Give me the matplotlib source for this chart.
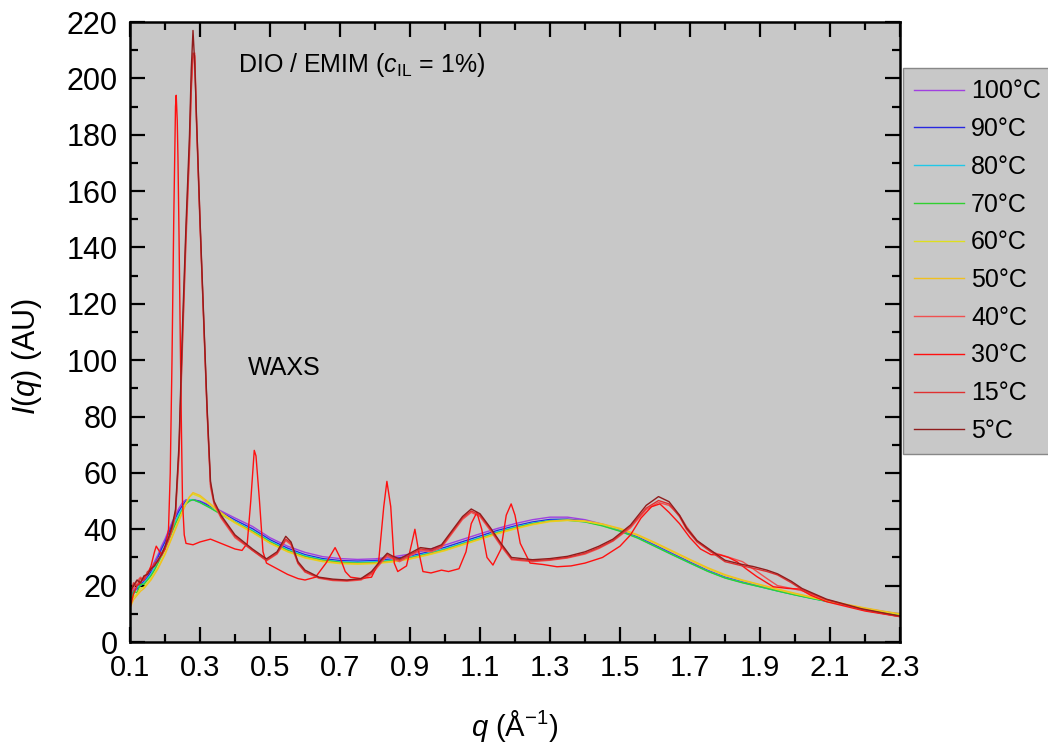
import numpy as np
import matplotlib
matplotlib.use('Agg')
import matplotlib.pyplot as plt
from matplotlib.ticker import MultipleLocator

plt.rcParams['font.family'] = ['Liberation Sans', 'DejaVu Sans']
plt.rcParams['mathtext.fontset'] = 'custom'
plt.rcParams['mathtext.rm'] = 'Liberation Sans'
plt.rcParams['mathtext.it'] = 'Liberation Sans:italic'

# smooth (liquid) curves, 50-100 C
q_s = [0.10, 0.11, 0.12, 0.13, 0.14, 0.15, 0.16, 0.17, 0.18, 0.19, 0.20, 0.21,
       0.22, 0.23, 0.24, 0.25, 0.26, 0.27, 0.28, 0.30, 0.33, 0.36, 0.40, 0.45,
       0.50, 0.55, 0.60, 0.65, 0.70, 0.75, 0.80, 0.85, 0.90, 0.95, 1.00, 1.05,
       1.10, 1.15, 1.20, 1.25, 1.30, 1.35, 1.40, 1.45, 1.50, 1.55, 1.60, 1.65,
       1.70, 1.75, 1.80, 1.85, 1.90, 1.95, 2.00, 2.05, 2.10, 2.15, 2.20, 2.25, 2.30]

i100 = [15, 19, 18.5, 21.5, 22, 24, 26, 28.5, 31, 34, 36.5, 39.5,
        42.5, 45, 47.5, 49.5, 50.5, 50.5, 50.5, 50, 48.5, 46.5, 44, 41,
        37, 34, 31.8, 30.3, 29.6, 29.3, 29.5, 30.2, 31.2, 32.7, 34.4, 36.4,
        38.4, 40.3, 42, 43.4, 44.3, 44.3, 43.4, 41.8, 39.9, 37.4, 34.4, 31.4,
        28.4, 25.5, 23.1, 21.4, 19.9, 18.4, 16.9, 15.6, 14.4, 13.1, 11.9, 10.9, 9.9]
i90 = [14, 18, 19, 20.5, 21.5, 23, 25, 27.5, 30, 33, 35.5, 38.5,
       41.5, 44, 46.5, 48.5, 50, 50.5, 50.5, 49.8, 48, 46, 43.3, 40.2,
       36.3, 33.3, 31, 29.6, 28.9, 28.7, 28.9, 29.5, 30.5, 31.9, 33.6, 35.6,
       37.6, 39.6, 41.2, 42.6, 43.5, 43.6, 43, 41.5, 39.6, 37.2, 34.2, 31.2,
       28.2, 25.3, 22.9, 21.2, 19.7, 18.2, 16.8, 15.5, 14.3, 13, 11.8, 10.8, 9.8]
i80 = [16, 17, 19.5, 20, 21, 22.5, 24, 26.5, 29, 31.5, 34, 37,
       40, 43, 45.5, 47.5, 49.5, 50.5, 50.5, 49.5, 47.6, 45.5, 42.8, 39.6,
       35.8, 32.8, 30.6, 29.2, 28.5, 28.3, 28.5, 29.1, 30.1, 31.5, 33.1, 35.1,
       37.1, 39.1, 40.8, 42.2, 43.1, 43.3, 42.7, 41.3, 39.4, 37, 34, 31,
       28, 25.2, 22.8, 21.1, 19.6, 18.1, 16.7, 15.4, 14.2, 12.9, 11.7, 10.7, 9.7]
i70 = [13, 18, 17.5, 20.5, 20.5, 22, 23.5, 25.5, 28, 30.5, 33, 36,
       39, 42, 44.5, 47, 49, 50, 50.5, 49.5, 47.5, 45.3, 42.5, 39.3,
       35.5, 32.5, 30.3, 29, 28.3, 28, 28.2, 28.8, 29.8, 31.2, 32.8, 34.8,
       36.8, 38.8, 40.5, 42, 43, 43.2, 42.6, 41.2, 39.3, 36.9, 33.9, 30.9,
       28, 25.1, 22.7, 21, 19.6, 18.1, 16.7, 15.4, 14.2, 12.9, 11.7, 10.7, 9.7]
i60 = [14, 16, 17, 19, 19.5, 21, 22.5, 24.5, 26.5, 29, 31.5, 34.5,
       37.5, 40.5, 43.5, 46.5, 49.5, 51.5, 52.5, 51.5, 48.5, 45.5, 42.2, 38.8,
       35, 32, 29.8, 28.5, 27.8, 27.6, 27.8, 28.4, 29.4, 30.8, 32.4, 34.4,
       36.4, 38.4, 40.1, 41.6, 42.7, 43.1, 42.8, 41.7, 40, 37.8, 35, 32,
       29, 26.1, 23.6, 21.8, 20.2, 18.6, 17.1, 15.7, 14.4, 13.1, 11.9, 10.8, 9.8]
i50 = [12, 15, 16.5, 18, 19, 20.5, 22, 24, 26, 28.5, 31, 34,
       37, 40, 43, 46, 49, 51.5, 53, 52, 49, 46, 42.5, 39,
       35.2, 32.2, 30, 28.7, 28, 27.8, 28, 28.6, 29.6, 31, 32.6, 34.6,
       36.6, 38.6, 40.3, 41.8, 42.9, 43.3, 43, 41.9, 40.3, 38.1, 35.3, 32.3,
       29.3, 26.4, 23.9, 22, 20.4, 18.8, 17.3, 15.9, 14.6, 13.3, 12.1, 11, 10]

# crystalline curves with the 0.28 peak (5, 15, 40 C)
q_d = [0.10, 0.11, 0.12, 0.13, 0.14, 0.15, 0.16, 0.17, 0.18, 0.19, 0.20, 0.21,
       0.22, 0.23, 0.24, 0.25, 0.26, 0.27, 0.275, 0.28, 0.285, 0.29, 0.30, 0.31,
       0.32, 0.33, 0.34, 0.36, 0.40, 0.45, 0.49, 0.52, 0.545, 0.56, 0.58, 0.60,
       0.64, 0.68, 0.72, 0.76, 0.79, 0.82, 0.835, 0.85, 0.87, 0.90, 0.93, 0.96,
       0.99, 1.02, 1.05, 1.075, 1.10, 1.13, 1.16, 1.19, 1.25, 1.30, 1.35, 1.40,
       1.44, 1.48, 1.53, 1.575, 1.61, 1.64, 1.67, 1.69, 1.72, 1.76, 1.80, 1.85,
       1.88, 1.92, 1.95, 1.99, 2.02, 2.09, 2.19, 2.30]
i5 = [18, 20, 22, 21, 23.5, 24, 26, 27, 29, 31, 34, 37,
      41, 47, 70, 112, 148, 180, 203, 217, 205, 186, 150, 117,
      84, 57, 50, 45, 38, 33, 29.5, 32, 37.5, 35.5, 28.5, 25.5,
      23, 22.3, 22, 22.5, 25, 29.5, 31.5, 30.5, 29.5, 31.5, 33.5, 33,
      34.5, 39.5, 44.5, 47.2, 45.5, 40.5, 35, 30, 29.2, 29.6, 30.4, 32,
      34, 36.5, 41.5, 48.5, 51.6, 49.8, 45, 40.5, 36, 32.5, 29, 27.5,
      26.8, 25.5, 24.2, 21.5, 19, 15.2, 11.8, 9.2]
i15 = [16, 21, 20, 22.5, 22, 25, 25.5, 28, 28.5, 31.5, 33.5, 36.5,
       40, 46, 68, 108, 145, 176, 198, 209, 208, 184, 148, 116,
       83, 56, 49.5, 44.5, 37.5, 32.5, 29, 31.5, 36.5, 35, 28, 25,
       22.8, 22, 21.8, 22.3, 24.5, 29, 31, 30, 29, 31, 33, 32.5,
       34, 39, 44, 46.5, 45, 40, 34.5, 29.5, 28.8, 29.2, 30, 31.5,
       33.5, 36, 41, 47.5, 50.2, 49, 44.5, 40, 35.5, 32, 28.5, 27,
       26.2, 25, 23.8, 21, 18.6, 15, 11.6, 9]
i40 = [17, 19, 21.5, 23, 22, 24.5, 26.5, 27, 29.5, 30.5, 33, 36,
       39.5, 45, 66, 105, 142, 173, 195, 207, 209, 186, 150, 115,
       82, 55, 49, 44, 37, 32.5, 28.8, 31.2, 36, 34.5, 27.8, 24.8,
       22.6, 21.8, 21.6, 22, 24, 28.5, 30.5, 29.5, 28.5, 30.5, 32.5, 32,
       33.5, 38.5, 43.5, 46, 44.5, 39.5, 34, 29.2, 28.5, 29, 29.8, 31.2,
       33.2, 35.8, 40.5, 47, 49.5, 48.5, 45, 41, 36, 32, 30.5, 28.5,
       26, 22.5, 20, 19, 18.2, 15, 11.5, 9]

# 30 C curve with the 0.235 peak and many sharp reflections
q_30 = [0.10, 0.11, 0.12, 0.13, 0.14, 0.15, 0.16, 0.17, 0.175, 0.18, 0.19, 0.20,
        0.21, 0.215, 0.22, 0.225, 0.23, 0.232, 0.235, 0.237, 0.24, 0.243, 0.247, 0.25,
        0.255, 0.26, 0.28, 0.30, 0.33, 0.36, 0.40, 0.42, 0.435, 0.445, 0.455, 0.46,
        0.47, 0.48, 0.49, 0.52, 0.55, 0.58, 0.60, 0.63, 0.66, 0.686, 0.70, 0.715,
        0.73, 0.76, 0.79, 0.81, 0.825, 0.834, 0.845, 0.855, 0.865, 0.89, 0.905, 0.914,
        0.925, 0.937, 0.96, 0.99, 1.01, 1.04, 1.06, 1.075, 1.091, 1.105, 1.12, 1.137,
        1.16, 1.175, 1.189, 1.20, 1.215, 1.243, 1.28, 1.32, 1.36, 1.40, 1.45, 1.50,
        1.53, 1.56, 1.59, 1.614, 1.64, 1.67, 1.70, 1.73, 1.76, 1.786, 1.81, 1.834,
        1.86, 1.891, 1.938, 1.98, 2.014, 2.043, 2.09, 2.15, 2.20, 2.25, 2.30]
i30 = [12, 17, 20, 21, 23, 24, 27, 32, 34, 33, 31, 33,
       40, 60, 100, 150, 190, 194, 185, 172, 145, 114, 75, 50,
       38, 35, 34.5, 35.5, 36.5, 35, 33, 32.5, 35, 50, 68, 66,
       50, 32, 28, 26, 24, 22.5, 22, 23, 28, 33.5, 30, 25,
       23, 22.5, 23, 28, 48, 57, 48, 28, 25, 27, 35, 40,
       32, 25, 24.5, 25.5, 25, 26, 32, 42, 46, 40, 30, 27.3,
       33, 45, 49, 45, 35, 28, 27.5, 26.7, 27, 28, 30, 34,
       38, 44, 48, 49, 46, 42, 37, 33, 31, 30.9, 30, 28.5,
       26, 23.2, 19.6, 19, 18.8, 16.7, 14.3, 12.5, 11, 10, 9]

labels = ['100°C', '90°C', '80°C', '70°C', '60°C', '50°C', '40°C', '30°C', '15°C', '5°C']
colors = ['#a040e0', '#2828e0', '#20c8e8', '#30d030', '#dede20', '#f0c020',
          '#f05050', '#ff1010', '#e03030', '#901c1c']

series = [(q_s, i100), (q_s, i90), (q_s, i80), (q_s, i70), (q_s, i60), (q_s, i50),
          (q_d, i40), (q_30, i30), (q_d, i15), (q_d, i5)]

fig = plt.figure(figsize=(10.48, 7.44), dpi=100)
ax = fig.add_axes([130/1048, 102/744, 770/1048, 620/744])
ax.set_facecolor('#c8c8c8')

for (x, y), lab, c in zip(series, labels, colors):
    ax.plot(x, y, color=c, lw=1.0, label=lab)

ax.set_xlim(0.1, 2.3)
ax.set_ylim(0, 220)
ax.xaxis.set_minor_locator(MultipleLocator(0.1))
ax.yaxis.set_major_locator(MultipleLocator(20))
ax.yaxis.set_minor_locator(MultipleLocator(10))
xt = np.arange(0.1, 2.31, 0.2)
ax.set_xticks(xt)
ax.set_xticklabels(['%.1f' % v for v in xt], fontsize=21)
ax.tick_params(which='both', direction='in', top=True, right=True, width=1.6)
ax.tick_params(which='major', length=11, pad=9)
ax.tick_params(axis='y', which='major', labelsize=22)
ax.tick_params(which='minor', length=6)
for s in ax.spines.values():
    s.set_linewidth(1.8)

ax.set_xlabel(r'$q$ (Å$^{-1}$)', fontsize=21, labelpad=18)
ax.set_ylabel(r'$I$($q$) (AU)', fontsize=22)
ax.yaxis.set_label_coords(-0.112, 0.46)

ax.text(0.14, 0.92, r'DIO / EMIM ($c$$_{\mathrm{IL}}$ = 1%)', transform=ax.transAxes, fontsize=18)
ax.text(0.153, 0.43, 'WAXS', transform=ax.transAxes, fontsize=18)

leg = fig.legend(loc='upper left', bbox_to_anchor=(903/1048, 1 - 68/744), fontsize=18,
                 frameon=True, fancybox=False, handlelength=2.0, labelspacing=0.55,
                 borderpad=0.45, borderaxespad=0, handletextpad=0.28)
leg.get_frame().set_facecolor('#c8c8c8')
leg.get_frame().set_edgecolor('#888888')
leg.get_frame().set_alpha(1)

fig.savefig('out.png', dpi=100)
